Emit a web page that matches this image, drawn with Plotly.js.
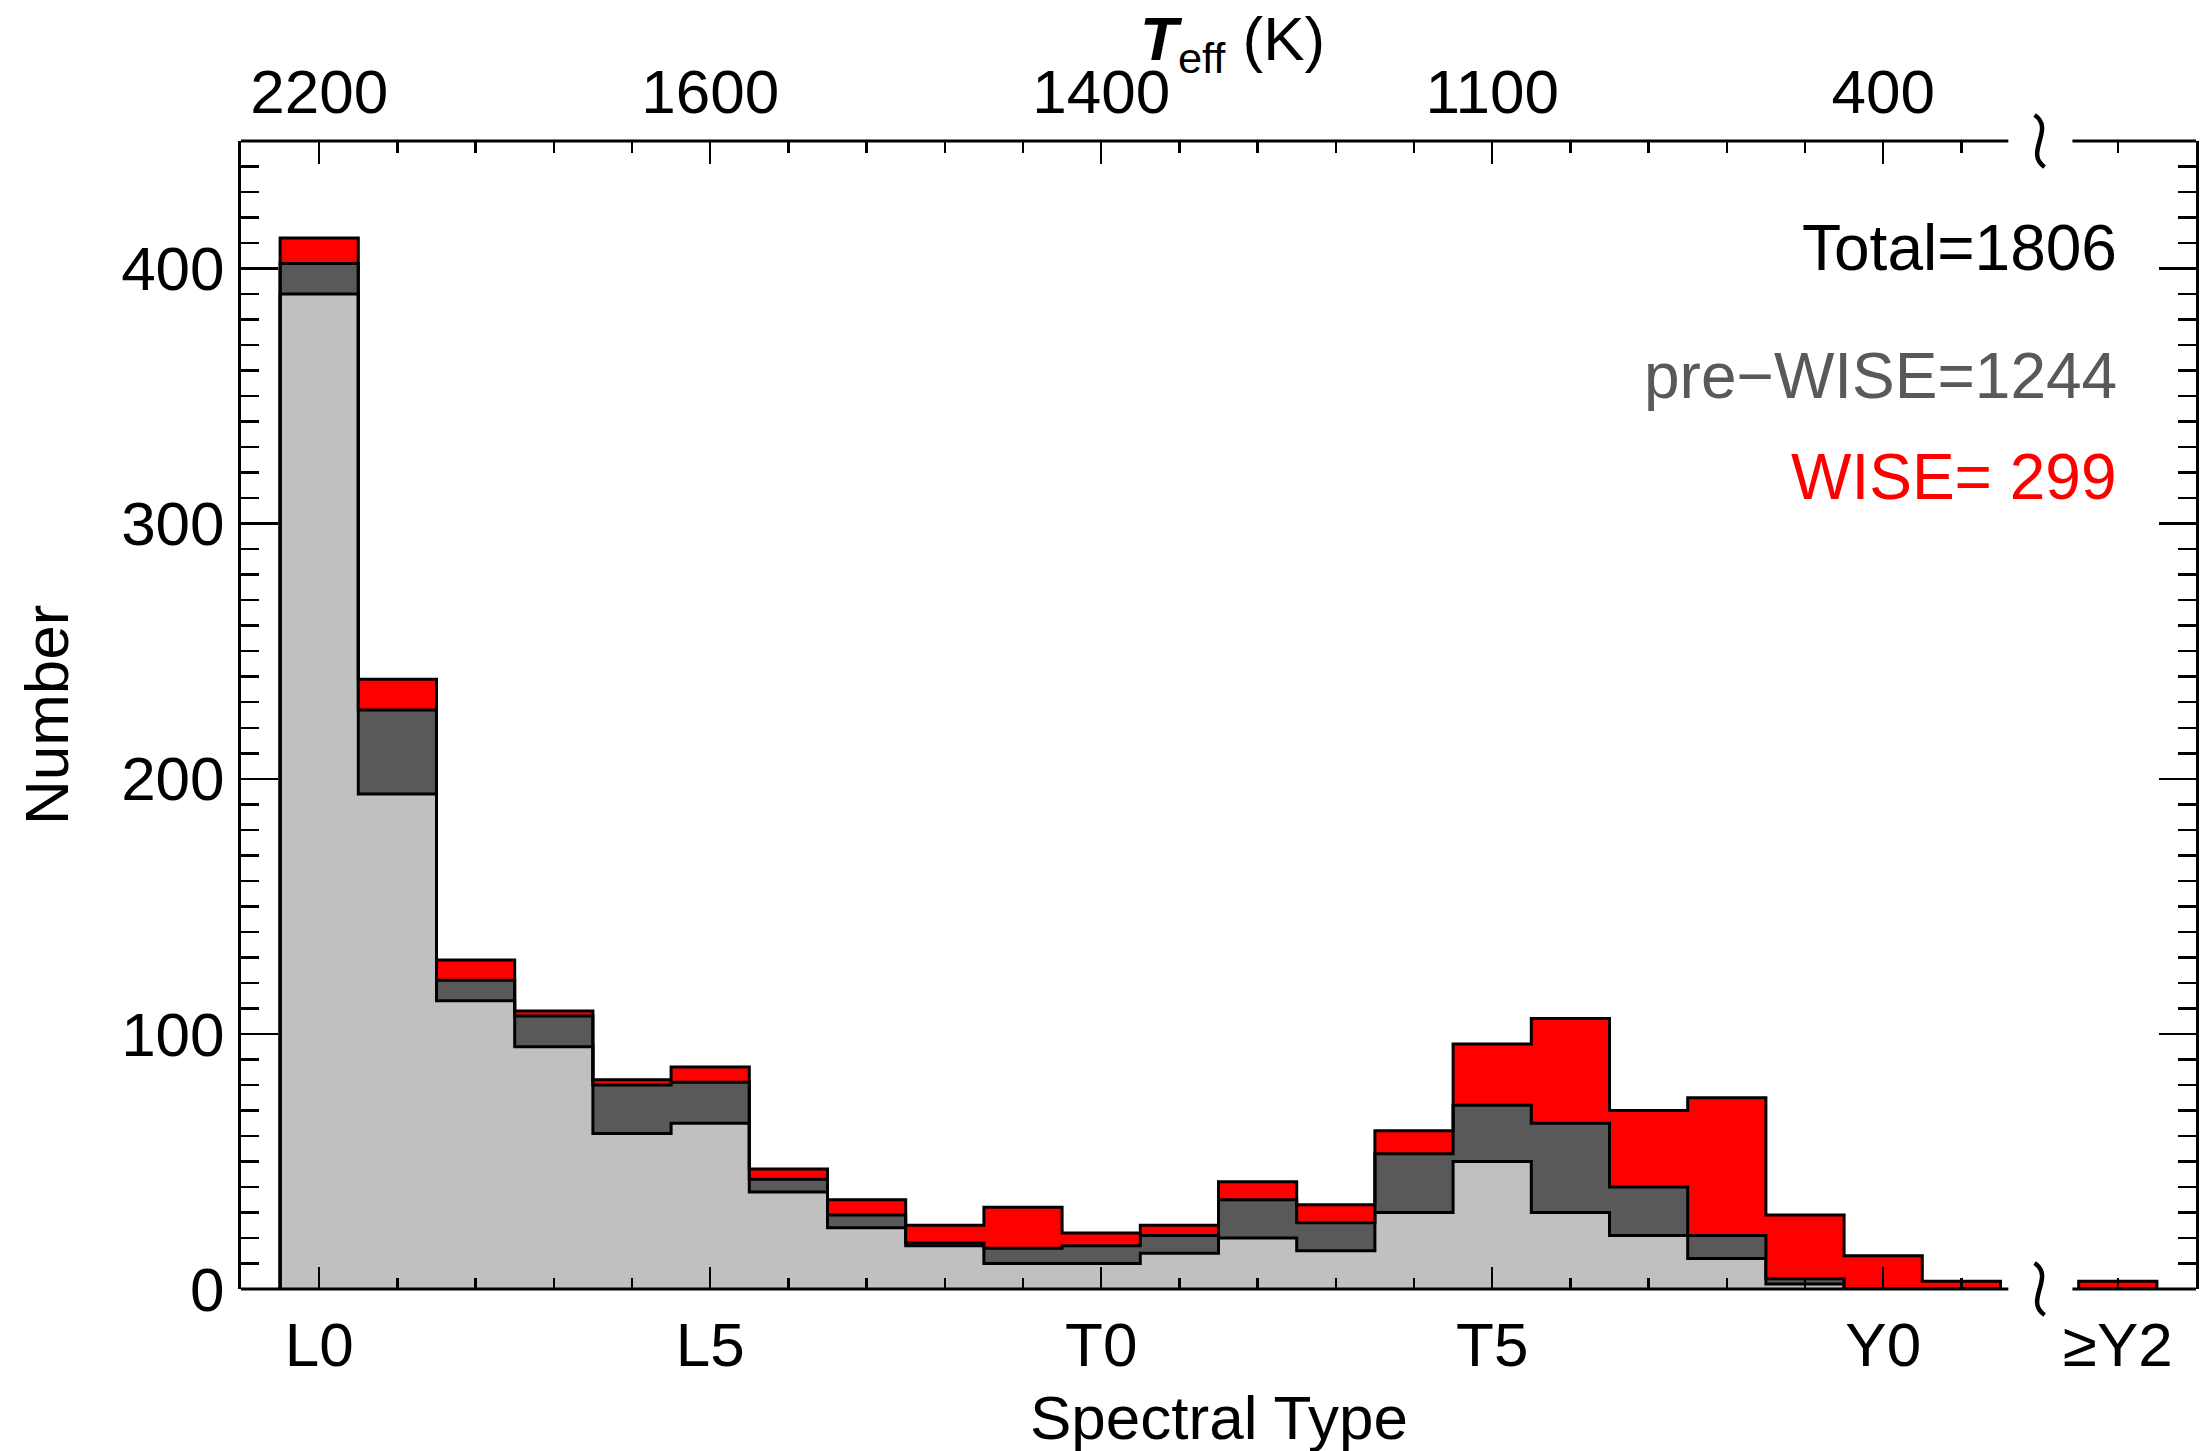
<!DOCTYPE html>
<html>
<head>
<meta charset="utf-8">
<script src="https://cdn.plot.ly/plotly-3.0.1.min.js"></script>
<style>html,body{margin:0;padding:0;background:#fff;}</style>
</head>
<body>
<div id="chart" style="width:2200px;height:1451px;"></div>
<script>
// ---- data ----
const spectralTypes = ['L0','L1','L2','L3','L4','L5','L6','L7','L8','L9',
                       'T0','T1','T2','T3','T4','T5','T6','T7','T8','T9',
                       'Y0','Y1','≥Y2'];
const binCenters = [0,1,2,3,4,5,6,7,8,9,10,11,12,13,14,15,16,17,18,19,20,21,23];
// light grey layer (pre-WISE)
const preWise = [390,194,113,95,61,65,38,24,17,10,10,14,20,15,30,50,30,21,12,2,0,0,0];
// dark grey layer
const otherSurveys = [12,33,8,12,19,16,5,5,1,6,7,7,15,11,23,22,35,19,9,2,0,0,0];
// red layer (WISE discoveries)
const wise = [10,12,8,2,2,6,4,6,7,16,5,4,7,7,9,24,41,30,54,25,13,3,3];

const majorTickVals = [0,5,10,15,20];
const majorTickText = ['L0','L5','T0','T5','Y0'];
const teffTickText = ['2200','1600','1400','1100','400'];
const breakPos = 22;

const totalLabel = 'Total=1806';
const preWiseLabel = 'pre\u2212WISE=1244';
const wiseLabel = 'WISE= 299';

// ---- build stacked step traces ----
const cumDark = preWise.map((v,i)=>v+otherSurveys[i]);
const cumRed = cumDark.map((v,i)=>v+wise[i]);

// split bins into contiguous groups (gap at the axis break)
const groups = [];
let cur = [0];
for (let i=1;i<binCenters.length;i++){
  if (binCenters[i]-binCenters[i-1] === 1) cur.push(i);
  else { groups.push(cur); cur=[i]; }
}
groups.push(cur);

function stepXY(idx, vals){
  const x=[], y=[];
  x.push(binCenters[idx[0]]-0.5); y.push(0);
  idx.forEach(i=>{ x.push(binCenters[i]-0.5); y.push(vals[i]); });
  const last = idx[idx.length-1];
  x.push(binCenters[last]+0.5); y.push(vals[last]);
  x.push(binCenters[last]+0.5); y.push(0);
  return {x,y};
}

const layers = [
  {vals: preWise, color:'#c0c0c0', fill:'tozeroy'},
  {vals: cumDark, color:'#595959', fill:'tonexty'},
  {vals: cumRed,  color:'#ff0000', fill:'tonexty'}
];

const traces = [];
groups.forEach((g,gi)=>{
  layers.forEach(L=>{
    const xy = stepXY(g, L.vals);
    traces.push({
      type:'scatter', mode:'lines', x:xy.x, y:xy.y,
      xaxis: gi===0 ? 'x' : 'x3',
      line:{shape:'hv', color:'#000', width:3},
      fill:L.fill, fillcolor:L.color,
      hoverinfo:'skip', showlegend:false, cliponaxis:false
    });
  });
});
// empty trace so the top (Teff) axis is drawn
traces.push({type:'scatter', mode:'lines', x:[], y:[], xaxis:'x2', hoverinfo:'skip', showlegend:false});

// ---- axes ----
const minorBottom = binCenters.filter(c=>c%5!==0 && c!==23);
const minorTop = binCenters.filter(c=>c%5!==0);
const yMinor = [];
for (let v=10; v<450; v+=10) if (v%100!==0) yMinor.push(v);

const FONT = 'Liberation Sans, Arial, Helvetica, sans-serif';
const FS = 62;

const xCommon = {
  range:[-1,24], showline:false, zeroline:false, showgrid:false,
  ticks:'inside', tickcolor:'#000', tickwidth:2.5,
  tickmode:'array', tickfont:{family:FONT,size:FS,color:'#000'}
};

const layout = {
  width:2200, height:1451,
  margin:{l:241, r:4, t:141, b:162, pad:0},
  paper_bgcolor:'#fff', plot_bgcolor:'#fff',
  font:{family:FONT, size:FS, color:'#000'},
  showlegend:false,
  xaxis: Object.assign({}, xCommon, {
    tickvals:majorTickVals, ticktext:majorTickText, ticklen:22,
    ticklabelstandoff:14,
    minor:{tickmode:'array', tickvals:minorBottom, ticks:'inside', ticklen:11, tickwidth:2.5, tickcolor:'#000'}
  }),
  xaxis2: Object.assign({}, xCommon, {
    overlaying:'x', side:'top', anchor:'y',
    tickvals:majorTickVals, ticktext:teffTickText, ticklen:23,
    ticklabelstandoff:15,
    minor:{tickmode:'array', tickvals:minorTop, ticks:'inside', ticklen:12, tickwidth:2.5, tickcolor:'#000'}
  }),
  xaxis3: Object.assign({}, xCommon, {
    overlaying:'x', side:'bottom', anchor:'y',
    tickvals:[binCenters[binCenters.length-1]], ticktext:[spectralTypes[spectralTypes.length-1]],
    ticklen:11, ticklabelstandoff:14
  }),
  yaxis:{
    range:[0,450], tickmode:'linear', tick0:0, dtick:100,
    ticks:'inside', ticklen:37, tickwidth:2.5, tickcolor:'#000',
    showline:true, linewidth:3, linecolor:'#000', mirror:'ticks',
    zeroline:false, showgrid:false, ticklabelstandoff:1,
    tickfont:{family:FONT,size:FS,color:'#000'},
    minor:{tickmode:'array', tickvals:yMinor, ticks:'inside', ticklen:18, tickwidth:2.5, tickcolor:'#000'}
  },
  shapes:[
    {type:'line', xref:'x', yref:'paper', x0:-1, x1:breakPos-0.4, y0:0, y1:0, line:{color:'#000',width:3}, layer:'above'},
    {type:'line', xref:'x', yref:'paper', x0:breakPos+0.42, x1:24, y0:0, y1:0, line:{color:'#000',width:3}, layer:'above'},
    {type:'line', xref:'x', yref:'paper', x0:-1, x1:breakPos-0.4, y0:1, y1:1, line:{color:'#000',width:3}, layer:'above'},
    {type:'line', xref:'x', yref:'paper', x0:breakPos+0.42, x1:24, y0:1, y1:1, line:{color:'#000',width:3}, layer:'above'},
    {type:'path', xref:'x', yref:'paper', xsizemode:'pixel', ysizemode:'pixel', xanchor:breakPos, yanchor:0,
     path:'M -5,26 C 16,12 -16,-12 5,-26', line:{color:'#000',width:4.5}, layer:'above'},
    {type:'path', xref:'x', yref:'paper', xsizemode:'pixel', ysizemode:'pixel', xanchor:breakPos, yanchor:1,
     path:'M -5,26 C 16,12 -16,-12 5,-26', line:{color:'#000',width:4.5}, layer:'above'}
  ],
  annotations:[
    {xref:'paper', yref:'paper', x:0.9605, y:0.9068, xanchor:'right', yanchor:'middle', showarrow:false,
     text:totalLabel, font:{family:FONT,size:64,color:'#000'}},
    {xref:'paper', yref:'paper', x:0.9605, y:0.7953, xanchor:'right', yanchor:'middle', showarrow:false,
     text:preWiseLabel, font:{family:FONT,size:64,color:'#595959'}},
    {xref:'paper', yref:'paper', x:0.9605, y:0.7073, xanchor:'right', yanchor:'middle', showarrow:false,
     text:wiseLabel, font:{family:FONT,size:64,color:'#ff0000'}},
    {xref:'paper', yref:'paper', x:0.507, y:1.0855, xanchor:'center', yanchor:'middle', showarrow:false,
     text:'<b><i>T</i></b><sub>eff</sub> (K)', font:{family:FONT,size:FS,color:'#000'}},
    {xref:'paper', yref:'paper', x:-0.0997, y:0.5, xanchor:'center', yanchor:'middle', showarrow:false,
     textangle:-90, text:'Number', font:{family:FONT,size:FS,color:'#000'}},
    {xref:'paper', yref:'paper', x:0.5, y:-0.1115, xanchor:'center', yanchor:'middle', showarrow:false,
     text:'Spectral Type', font:{family:FONT,size:FS,color:'#000'}}
  ]
};

Plotly.newPlot('chart', traces, layout, {staticPlot:true, displayModeBar:false});
</script>
</body>
</html>
